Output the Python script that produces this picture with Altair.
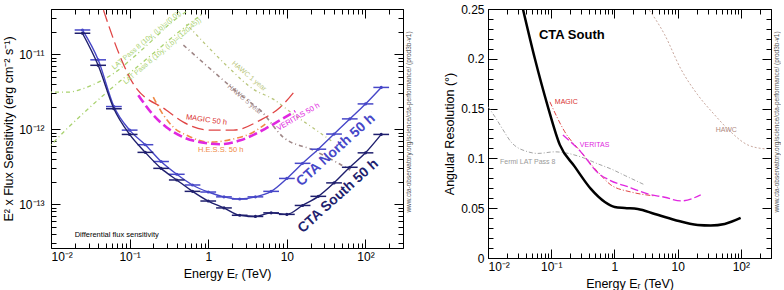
import altair as alt
import pandas as pd

# ---------------- data ----------------
# CTA differential sensitivity, 5 bins per decade (TeV)
cta_energy = [0.0251, 0.0398, 0.0631, 0.1, 0.158, 0.251, 0.398, 0.631, 1.0, 1.585,
              2.512, 3.981, 6.31, 10.0, 15.85, 25.12, 39.81, 63.1, 100.0, 158.5]
cta_e_lo = [0.02, 0.0316, 0.0501, 0.0794, 0.126, 0.2, 0.316, 0.501, 0.794, 1.259,
            1.995, 3.162, 5.012, 7.943, 12.59, 19.95, 31.62, 50.12, 79.43, 125.9]
cta_e_hi = [0.0316, 0.0501, 0.0794, 0.126, 0.2, 0.316, 0.501, 0.794, 1.259, 1.995,
            3.162, 5.012, 7.943, 12.59, 19.95, 31.62, 50.12, 79.43, 125.9, 199.5]
north_flux = [2.1e-11, 8.4e-12, 2.0e-12, 9.7e-13, 6.2e-13, 3.7e-13, 2.5e-13, 1.8e-13, 1.45e-13, 1.25e-13,
              1.17e-13, 1.25e-13, 1.48e-13, 2.2e-13, 3.5e-13, 5.4e-13, 8.6e-13, 1.37e-12, 2.17e-12, 3.6e-12]
south_flux = [1.9e-11, 7.1e-12, 1.87e-12, 8.5e-13, 4.9e-13, 3.0e-13, 2.1e-13, 1.48e-13, 1.1e-13, 8.9e-14,
              7.1e-14, 6.85e-14, 7.65e-14, 7.3e-14, 9.6e-14, 1.27e-13, 1.92e-13, 3.1e-13, 4.83e-13, 8.5e-13]

magic_E = [0.0465, 0.0764, 0.112, 0.294, 0.483, 1.06, 2.08, 4.59, 8.24, 13.2]
magic_F = [3.86e-11, 9.1e-12, 3.98e-12, 1.79e-12, 1.24e-12, 9.7e-13, 9.7e-13, 1.32e-12, 1.96e-12, 3.41e-12]

veritas_E = [0.129, 0.2, 0.294, 0.483, 0.795, 1.43, 2.56, 5.47, 8.24, 12.8]
veritas_F = [2.84e-12, 1.54e-12, 1.06e-12, 7.8e-13, 6.7e-13, 6.3e-13, 7.1e-13, 1.03e-12, 1.32e-12, 1.74e-12]

hess_E = [0.2, 0.269, 0.361, 0.558, 1.06, 2.08, 3.74, 5.32]
hess_F = [2.67e-12, 1.54e-12, 1.06e-12, 8.1e-13, 6.7e-13, 7.4e-13, 9.1e-13, 1.17e-12]

hawc1_E = [0.53, 0.918, 1.8, 3.74, 6.71, 12.1, 23.6, 38.8]
hawc1_F = [2.51e-11, 1.36e-11, 6.7e-12, 3.41e-12, 2.51e-12, 1.58e-12, 9.7e-13, 6.7e-13]

hawc5_E = [0.483, 1.27, 2.79, 4.59, 9.0, 21.6, 42.5, 63.8]
hawc5_F = [1.32e-11, 5.4e-12, 2.67e-12, 1.79e-12, 7.8e-13, 5.25e-13, 3.63e-13, 2.84e-13]

latA_E = [0.01, 0.0167, 0.0244, 0.0402, 0.0661, 0.112, 0.201, 0.311, 0.558]
latA_F = [3.11e-12, 3.11e-12, 3.41e-12, 4.24e-12, 5.75e-12, 9.1e-12, 1.58e-11, 2.44e-11, 3.86e-11]
latB_E = [0.01, 0.0153, 0.0244, 0.0465, 0.0966, 0.201, 0.417, 0.867]
latB_F = [6.12e-13, 9.7e-13, 1.54e-12, 2.84e-12, 5.41e-12, 1.03e-11, 1.96e-11, 3.52e-11]

# angular resolution panel (degrees)
res_cta_E = [0.0345, 0.0552, 0.0887, 0.137, 0.237, 0.424, 0.705, 1.01, 1.46, 2.34,
             4.35, 9.0, 20.8, 33.4, 55.5, 99.3]
res_cta_R = [0.254, 0.200, 0.1518, 0.1136, 0.0915, 0.0694, 0.0563, 0.0513, 0.0503, 0.0493,
             0.0442, 0.0382, 0.0332, 0.0327, 0.0342, 0.0402]
res_magic_E = [0.0953, 0.164, 0.294, 0.547, 0.877, 1.82, 4.35]
res_magic_R = [0.1568, 0.1267, 0.1066, 0.0864, 0.0734, 0.0663, 0.0623]
res_veritas_E = [0.153, 0.294, 0.547, 0.85, 1.82, 3.37, 6.25, 11.2, 23.2]
res_veritas_R = [0.1236, 0.1066, 0.0855, 0.078, 0.0705, 0.0643, 0.061, 0.0573, 0.0633]
res_fermi_E = [0.01, 0.0129, 0.0173, 0.0231, 0.0429, 0.0617, 0.114, 0.294, 0.547, 0.877, 1.5, 3.02]
res_fermi_R = [0.152, 0.1417, 0.1287, 0.1166, 0.1066, 0.105, 0.1066, 0.1015, 0.0945, 0.0895, 0.0825, 0.0734]
res_hawc_E = [3.3, 6.25, 11.2, 20.8, 38.5, 69.0, 128.0, 238.0]
res_hawc_R = [0.252, 0.2241, 0.19, 0.1638, 0.1437, 0.1267, 0.1136, 0.1096]

# tick values
x_major = [0.01, 0.1, 1, 10, 100]
x_minor = [m * d for d in [0.01, 0.1, 1, 10] for m in range(2, 10)] + [200, 300]
yl_major = [1e-13, 1e-12, 1e-11]
yl_minor = [m * 1e-14 for m in range(3, 10)] + [m * 1e-13 for m in range(2, 10)] + \
           [m * 1e-12 for m in range(2, 10)] + [m * 1e-11 for m in range(2, 5)]
yr_major = [0, 0.05, 0.1, 0.15, 0.2, 0.25]
yr_minor = [i / 100 for i in range(26) if i % 5 != 0]

URL = "www.cta-observatory.org/science/cta-performance/ (prod3b-v1)"
FONT = "Liberation Sans"

# ---------------- scales ----------------
xs = alt.Scale(type="log", domain=[0.01, 300], nice=False)
ysl = alt.Scale(type="log", domain=[2.6e-14, 4e-11], nice=False)
ysr = alt.Scale(type="linear", domain=[0, 0.25], nice=False, zero=False)

LOGMAJ = "abs(log(datum.value)/LN10 - round(log(datum.value)/LN10)) < 0.001"
XLABEL = ("datum.value < 0.05 ? '10⁻²' : datum.value < 0.5 ? '10⁻¹' : datum.value < 5 ? '1' : "
          "datum.value < 50 ? '10' : '10²'")
YLLABEL = "datum.value < 5e-13 ? '10⁻¹³' : datum.value < 5e-12 ? '10⁻¹²' : '10⁻¹¹'"


def tick_size(test):
    # negative sizes draw the ticks inside the frame
    return {"expr": f"({test}) ? -9 : -5"}


def line(E, V, ys, color, width, dash=None, interp="monotone"):
    df = pd.DataFrame({"E": E, "V": V})
    kw = dict(color=color, strokeWidth=width, clip=True, interpolate=interp)
    if dash:
        kw["strokeDash"] = dash
    return alt.Chart(df).mark_line(**kw).encode(
        x=alt.X("E:Q", scale=xs, axis=None),
        y=alt.Y("V:Q", scale=ys, axis=None),
    )


def label(E, V, text, ys, color, size, angle=0, bold=False, align="center"):
    df = pd.DataFrame({"E": [E], "V": [V], "t": [text]})
    return alt.Chart(df).mark_text(
        color=color, fontSize=size, angle=angle, font=FONT,
        fontWeight="bold" if bold else "normal", align=align, baseline="middle",
    ).encode(
        x=alt.X("E:Q", scale=xs, axis=None),
        y=alt.Y("V:Q", scale=ys, axis=None),
        text="t:N",
    )


def axes(ys, y_values, y_test, y_label_expr, y_title, y_lab_pad, y_title_pad):
    dom = pd.DataFrame({"E": [xs.domain[0]], "V": [ys.domain[0]]})
    main = alt.Chart(dom).mark_point(opacity=0).encode(
        x=alt.X("E:Q", scale=xs, axis=alt.Axis(
            orient="bottom", values=x_major + x_minor, title="Energy Eᵣ (TeV)",
            labelExpr=f"{LOGMAJ} ? ({XLABEL}) : ''", labelOverlap=False,
            tickSize=tick_size(LOGMAJ), labelPadding=12, titlePadding=1)),
        y=alt.Y("V:Q", scale=ys, axis=alt.Axis(
            orient="left", values=y_values, title=y_title,
            labelExpr=y_label_expr, labelOverlap=False,
            tickSize=tick_size(y_test), labelPadding=y_lab_pad, titlePadding=y_title_pad)),
    )
    mirror = alt.Chart(dom).mark_point(opacity=0).encode(
        x=alt.X("E:Q", scale=xs, axis=alt.Axis(
            orient="top", values=x_major + x_minor, title=None, labels=False,
            tickSize=tick_size(LOGMAJ))),
        y=alt.Y("V:Q", scale=ys, axis=alt.Axis(
            orient="right", values=y_values, title=None, labels=False,
            tickSize=tick_size(y_test))),
    )
    return [main, mirror]


# ---------------- left panel: sensitivity ----------------
NORTH = "#4747c8"
SOUTH = "#1f1f6e"
cta = pd.DataFrame({"E": cta_energy, "lo": cta_e_lo, "hi": cta_e_hi,
                    "north": north_flux, "south": south_flux})

left_layers = axes(ysl, yl_major + yl_minor, LOGMAJ,
                   f"{LOGMAJ} ? ({YLLABEL}) : ''",
                   "E² x Flux Sensitivity (erg cm⁻² s⁻¹)", 16, 3)

left_layers += [
    line(latA_E, latA_F, ysl, "#a9d26f", 1.3, [1, 3, 4, 3]),
    line(latB_E, latB_F, ysl, "#a9d26f", 1.3, [1, 3, 4, 3]),
    line(hawc1_E, hawc1_F, ysl, "#b9c67c", 1.3, [1, 3, 3, 3]),
    line(hawc5_E, hawc5_F, ysl, "#9e8686", 1.6, [4, 3, 1, 3]),
    line(magic_E, magic_F, ysl, "#e04545", 1.3, [12, 5]),
    line(hess_E, hess_F, ysl, "#ef8a45", 1.6, [6, 3, 1, 3]),
    line(veritas_E, veritas_F, ysl, "#e028e0", 2.6, [9, 4]),
]
for col, color in [("north", NORTH), ("south", SOUTH)]:
    base = alt.Chart(cta)
    left_layers += [
        base.mark_line(color=color, strokeWidth=1.4, interpolate="monotone", clip=True).encode(
            x=alt.X("E:Q", scale=xs, axis=None), y=alt.Y(f"{col}:Q", scale=ysl, axis=None)),
        base.mark_rule(color=color, strokeWidth=1.5, clip=True).encode(
            x=alt.X("lo:Q", scale=xs, axis=None), x2="hi:Q",
            y=alt.Y(f"{col}:Q", scale=ysl, axis=None)),
        base.mark_circle(color=color, size=10, opacity=1).encode(
            x=alt.X("E:Q", scale=xs, axis=None), y=alt.Y(f"{col}:Q", scale=ysl, axis=None)),
    ]

left_layers += [
    label(0.164, 1.54e-11, "LAT Pass 8 (10y, (l,b)=(0,0))", ysl, "#a9d26f", 7, 320),
    label(0.261, 1.1e-11, "LAT Pass 8 (10y, (l,b)=(120,45))", ysl, "#a9d26f", 7, 320),
    label(3.3, 5.1e-12, "HAWC 1 year", ysl, "#b9c67c", 7, 40),
    label(2.9, 2.5e-12, "HAWC 5 year", ysl, "#9e8686", 7, 40),
    label(0.946, 1.32e-12, "MAGIC 50 h", ysl, "#d93030", 7.5, 8),
    label(1.44, 5.25e-13, "H.E.S.S. 50 h", ysl, "#ef8a45", 7.5, 0),
    label(14, 1.45e-12, "VERITAS 50 h", ysl, "#e028e0", 7.5, 330),
    label(42, 5.25e-13, "CTA North 50 h", ysl, NORTH, 14, 318, True),
    label(45, 1.28e-13, "CTA South 50 h", ysl, SOUTH, 14, 318, True),
    label(0.02, 3.86e-14, "Differential flux sensitivity", ysl, "black", 7.5, 0, False, "left"),
    alt.Chart(pd.DataFrame({"t": [URL]})).mark_text(
        angle=270, fontSize=6.5, color="#555555", font=FONT, baseline="middle").encode(
        x=alt.value(358), y=alt.value(113), text="t:N"),
]

left = alt.layer(*left_layers).properties(width=352, height=239)

# ---------------- right panel: angular resolution ----------------
YRLABEL = "abs(datum.value*20 - round(datum.value*20)) < 0.001 ? format(datum.value, '.2~f') : ''"
YRTEST = "abs(datum.value*20 - round(datum.value*20)) < 0.001"
right_layers = axes(ysr, yr_major + yr_minor, YRTEST, YRLABEL, "Angular Resolution (°)", 13, 4)
right_layers += [
    line(res_fermi_E, res_fermi_R, ysr, "#9a9a9a", 0.9, [4, 2, 1, 2]),
    line(res_hawc_E, res_hawc_R, ysr, "#c9a89e", 1.0, [2, 2]),
    line(res_magic_E, res_magic_R, ysr, "#e04545", 1.0, [5, 2, 1, 2]),
    line(res_veritas_E, res_veritas_R, ysr, "#e028e0", 1.3, [8, 3]),
    line(res_cta_E, res_cta_R, ysr, "black", 2.5),
    label(0.212, 0.2242, "CTA South", ysr, "black", 13, 0, True),
    label(0.114, 0.1568, "MAGIC", ysr, "#d93030", 7, 0, False, "left"),
    label(0.284, 0.1136, "VERITAS", ysr, "#e028e0", 7, 0, False, "left"),
    label(0.0155, 0.0965, "Fermi LAT Pass 8", ysr, "#9a9a9a", 7, 0, False, "left"),
    label(40, 0.1287, "HAWC", ysr, "#b08a80", 7, 0, False, "left"),
    alt.Chart(pd.DataFrame({"t": [URL]})).mark_text(
        angle=270, fontSize=6.5, color="#555555", font=FONT, baseline="middle").encode(
        x=alt.value(289), y=alt.value(113), text="t:N"),
]
right = alt.layer(*right_layers).properties(width=283, height=249)

chart = alt.hconcat(left, right, spacing=30).properties(
    padding={"left": 2, "top": 2, "right": 0, "bottom": 0}
).configure_view(stroke="black", strokeWidth=1).configure_axis(
    domain=False, tickColor="black", tickWidth=1, labelFont=FONT, titleFont=FONT,
    labelFontSize=12, titleFontSize=12.5, labelColor="black", titleColor="black",
    titleFontWeight="normal", grid=False,
)

chart.save("out.html", embed_options={"renderer": "svg", "actions": False})
